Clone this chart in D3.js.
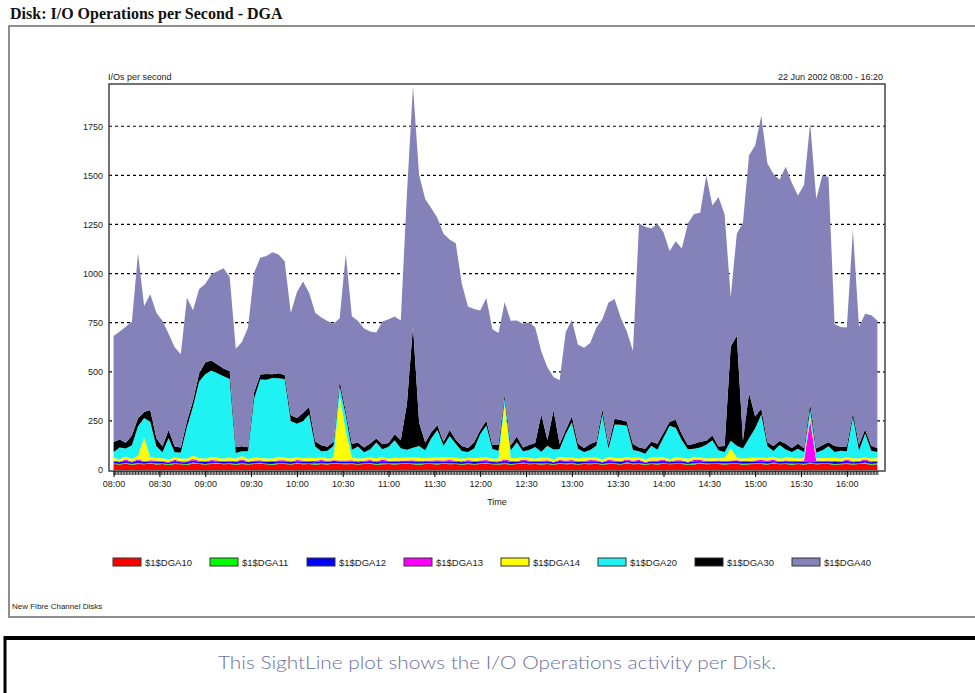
<!DOCTYPE html>
<html>
<head>
<meta charset="utf-8">
<script src="https://cdn.jsdelivr.net/npm/d3@7"></script>
<style>
  body { margin: 0; background: #fff; }
  svg text { font-family: "Liberation Sans", Arial, sans-serif; }
</style>
</head>
<body>
<svg id="chart" width="975" height="693"></svg>
<script>
// disks, in stacking order (bottom first)
var disks = ["$1$DGA10", "$1$DGA11", "$1$DGA12", "$1$DGA13", "$1$DGA14", "$1$DGA20", "$1$DGA30", "$1$DGA40"];
var diskColors = ["#ff0000", "#00ff00", "#0000ff", "#ff00ff", "#ffff00", "#1ff2f2", "#000000", "#8582ba"];

// one sample every 4 minutes, 08:00 - 16:20
var sampleStep = 4;

var dga10 = [30, 28, 32, 27, 31, 29, 33, 28, 30, 26,
  31, 29, 27, 32, 30, 28, 31, 33, 29, 30,
  27, 31, 28, 30, 32, 29, 27, 31, 30, 28,
  32, 29, 30, 27, 31, 28, 33, 30, 29, 31,
  28, 30, 32, 27, 29, 31, 28, 30, 33, 29,
  27, 31, 30, 28, 32, 29, 30, 27, 31, 28,
  30, 32, 29, 28, 31, 27, 30, 33, 29, 31,
  28, 30, 27, 32, 29, 31, 28, 30, 29, 32,
  27, 31, 30, 28, 33, 29, 31, 27, 30, 28,
  32, 29, 30, 31, 27, 28, 33, 29, 30, 31,
  28, 30, 32, 27, 29, 31, 30, 28, 33, 29,
  31, 27, 30, 28, 32, 29, 31, 30, 27, 29,
  31, 28, 30, 32, 27, 29];

var dga11 = [4, 3, 5, 4, 6, 3, 4, 5, 3, 4,
  5, 3, 4, 6, 4, 3, 5, 4, 3, 5,
  4, 6, 3, 4, 5, 3, 4, 5, 4, 3,
  5, 4, 3, 6, 4, 5, 3, 4, 5, 4,
  3, 5, 4, 4, 6, 3, 5, 4, 3, 4,
  5, 3, 4, 5, 4, 6, 3, 4, 5, 3,
  4, 5, 3, 4, 6, 4, 3, 5, 4, 3,
  5, 4, 3, 4, 5, 6, 3, 4, 5, 4,
  3, 5, 4, 3, 6, 4, 5, 3, 4, 5,
  4, 3, 5, 4, 3, 6, 4, 5, 3, 4,
  5, 4, 3, 5, 4, 3, 6, 4, 5, 3,
  4, 5, 3, 4, 6, 4, 3, 5, 4, 3,
  5, 4, 3, 6, 4, 5];

var dga12 = [9, 8, 10, 7, 11, 9, 8, 10, 9, 7,
  10, 8, 9, 11, 8, 10, 9, 7, 10, 8,
  9, 11, 8, 10, 7, 9, 10, 8, 11, 9,
  8, 10, 9, 7, 11, 8, 10, 9, 8, 10,
  9, 7, 10, 8, 11, 9, 8, 10, 9, 12,
  8, 10, 9, 11, 7, 9, 10, 8, 9, 11,
  10, 8, 9, 7, 10, 11, 8, 9, 10, 8,
  9, 11, 8, 10, 9, 7, 10, 8, 11, 9,
  8, 10, 9, 11, 8, 9, 10, 7, 9, 10,
  11, 8, 9, 10, 8, 11, 9, 7, 10, 9,
  8, 10, 11, 9, 8, 10, 9, 11, 8, 9,
  10, 8, 9, 11, 7, 10, 9, 8, 10, 9,
  11, 8, 9, 10, 8, 9];

var dga13 = [5, 4, 6, 5, 7, 4, 5, 6, 4, 5,
  6, 4, 5, 7, 5, 4, 6, 5, 4, 6,
  5, 7, 4, 5, 6, 4, 5, 6, 5, 4,
  6, 5, 4, 7, 5, 6, 4, 5, 6, 5,
  4, 6, 5, 5, 7, 4, 6, 5, 4, 5,
  6, 4, 5, 6, 5, 7, 4, 5, 6, 4,
  5, 6, 4, 5, 7, 5, 4, 6, 5, 4,
  6, 5, 4, 5, 6, 7, 4, 5, 6, 5,
  4, 6, 5, 4, 7, 5, 6, 4, 5, 6,
  5, 4, 6, 5, 4, 7, 5, 6, 4, 5,
  6, 5, 4, 6, 5, 4, 7, 5, 6, 4,
  5, 6, 4, 5, 210, 5, 4, 6, 5, 4,
  6, 5, 4, 7, 5, 6];

var dga14 = [14, 12, 16, 13, 18, 120, 15, 12, 14, 11,
  13, 15, 12, 17, 14, 12, 16, 13, 11, 14,
  12, 16, 13, 15, 11, 14, 12, 17, 13, 15,
  14, 12, 16, 13, 15, 11, 14, 330, 150, 13,
  15, 12, 14, 16, 13, 11, 15, 12, 14, 13,
  16, 12, 14, 13, 15, 12, 17, 13, 11, 14,
  13, 15, 12, 14, 280, 13, 16, 12, 14, 11,
  15, 13, 12, 16, 14, 12, 13, 15, 11, 14,
  12, 16, 13, 14, 11, 15, 13, 12, 16, 14,
  13, 11, 15, 12, 14, 16, 13, 12, 14, 11,
  15, 60, 13, 12, 16, 14, 11, 13, 15, 12,
  14, 16, 12, 13, 15, 11, 14, 12, 16, 13,
  12, 15, 13, 11, 14, 12];

var dga20 = [30, 60, 40, 70, 150, 100, 180, 60, 30, 110,
  25, 30, 160, 250, 390, 430, 440, 430, 420, 400,
  30, 25, 40, 300, 400, 400, 410, 400, 400, 190,
  170, 190, 220, 60, 30, 40, 60, 50, 80, 40,
  60, 30, 40, 80, 40, 60, 90, 50, 40, 50,
  60, 40, 100, 140, 60, 110, 70, 40, 30, 50,
  120, 160, 50, 40, 30, 40, 80, 30, 40, 60,
  30, 60, 50, 40, 120, 180, 50, 30, 40, 60,
  230, 40, 170, 170, 160, 40, 30, 30, 60, 40,
  100, 170, 150, 90, 50, 40, 50, 70, 90, 40,
  30, 40, 60, 50, 100, 150, 220, 60, 30, 70,
  40, 30, 50, 30, 40, 30, 40, 60, 30, 40,
  30, 210, 40, 120, 40, 30];

var dga30 = [50, 40, 30, 50, 40, 30, 60, 40, 30, 40,
  30, 25, 30, 30, 40, 60, 50, 45, 40, 40,
  30, 25, 20, 30, 25, 30, 20, 25, 20, 30,
  30, 40, 40, 25, 30, 20, 20, 25, 20, 30,
  20, 25, 30, 20, 25, 20, 30, 40, 230, 620,
  120, 40, 30, 25, 20, 30, 20, 25, 20, 30,
  20, 25, 20, 30, 20, 25, 30, 20, 25, 20,
  190, 30, 200, 25, 20, 30, 25, 20, 30, 20,
  25, 20, 30, 25, 20, 30, 20, 25, 20, 30,
  25, 20, 40, 30, 20, 25, 30, 20, 25, 20,
  30, 480, 560, 40, 230, 60, 30, 20, 25, 20,
  30, 20, 25, 20, 30, 20, 25, 20, 30, 20,
  25, 20, 30, 20, 25, 20];

var dga40 = [540, 550, 590, 580, 840, 540, 590, 640, 640, 490,
  505, 475, 630, 460, 430, 400, 440, 475, 510, 480,
  500, 530, 610, 610, 595, 600, 620, 605, 580, 520,
  640, 670, 580, 655, 650, 640, 600, 320, 800, 650,
  620, 605, 570, 540, 625, 630, 600, 610, 1070, 1220,
  1260, 1240, 1140, 1055, 1060, 970, 1000, 825, 720, 680,
  610, 625, 590, 570, 470, 635, 590, 630, 625, 590,
  320, 370, 170, 325, 500, 490, 505, 510, 515, 580,
  460, 725, 610, 520, 460, 475, 1140, 1130, 1085, 1120,
  1020, 870, 910, 945, 1130, 1170, 1165, 1350, 1170, 1270,
  1180, 250, 520, 1110, 1210, 1380, 1490, 1420, 1385, 1330,
  1410, 1350, 1265, 1340, 1425, 1270, 1375, 1350, 620, 610,
  605, 930, 600, 590, 665, 650];

var yTicks = [0, 250, 500, 750, 1000, 1250, 1500, 1750];

var series = [dga10, dga11, dga12, dga13, dga14, dga20, dga30, dga40];
var day = new Date(2002, 5, 22, 8, 0);

var rows = dga10.map(function(v, i) {
  var row = { time: d3.timeMinute.offset(day, i * sampleStep) };
  disks.forEach(function(k, j) { row[k] = series[j][i]; });
  return row;
});

var svg = d3.select("#chart");

// page title and outer frame
svg.append("text")
  .attr("x", 10).attr("y", 19)
  .style("font-family", "'Liberation Serif', 'Times New Roman', serif")
  .style("font-weight", "bold")
  .style("font-size", "16px")
  .attr("fill", "#111")
  .text("Disk: I/O Operations per Second - DGA");

svg.append("rect")
  .attr("x", 9).attr("y", 26)
  .attr("width", 980).attr("height", 591)
  .attr("fill", "none").attr("stroke", "#6a6a6a").attr("stroke-width", 1.5);

var plot = { left: 109, right: 885, top: 84, bottom: 471 };

var x = d3.scaleTime()
  .domain([new Date(2002, 5, 22, 7, 57), new Date(2002, 5, 22, 16, 25)])
  .range([plot.left, plot.right]);

var y = d3.scaleLinear()
  .domain([0, 1965])
  .range([470, plot.top]);

// dashed grid lines
svg.append("g").selectAll("line")
  .data(yTicks.filter(d => d > 0))
  .join("line")
  .attr("x1", plot.left).attr("x2", plot.right)
  .attr("y1", d => y(d)).attr("y2", d => y(d))
  .attr("stroke", "#000").attr("stroke-width", 1.2)
  .attr("stroke-dasharray", "3,3");

// stacked areas
var stacked = d3.stack().keys(disks)(rows);

var area = d3.area()
  .x(d => x(d.data.time))
  .y0(d => y(d[0]))
  .y1(d => y(d[1]));

svg.append("g").selectAll("path")
  .data(stacked)
  .join("path")
  .attr("fill", (d, i) => diskColors[i])
  .attr("d", area);

// plot frame
svg.append("rect")
  .attr("x", plot.left).attr("y", plot.top)
  .attr("width", plot.right - plot.left).attr("height", plot.bottom - plot.top)
  .attr("fill", "none").attr("stroke", "#444").attr("stroke-width", 1.5);

// y axis labels
var yAxis = svg.append("g")
  .attr("transform", `translate(${plot.left},0)`)
  .call(d3.axisLeft(y).tickValues(yTicks).tickSize(0).tickPadding(6).tickFormat(d3.format("d")));
yAxis.select(".domain").remove();
yAxis.selectAll("text").attr("fill", "#222").style("font-size", "9px");

// x axis: one tick a minute, labels every half hour
var xMinor = svg.append("g")
  .attr("transform", `translate(0,${plot.bottom})`)
  .call(d3.axisBottom(x)
    .tickValues(d3.timeMinute.range(day, new Date(2002, 5, 22, 16, 21)))
    .tickSize(4).tickFormat(""));
xMinor.select(".domain").remove();
xMinor.selectAll("line").attr("stroke", "#000").attr("stroke-width", 0.8);

var xMajor = svg.append("g")
  .attr("transform", `translate(0,${plot.bottom})`)
  .call(d3.axisBottom(x)
    .tickValues(d3.timeMinute.every(30).range(day, new Date(2002, 5, 22, 16, 1)))
    .tickSize(6).tickPadding(4)
    .tickFormat(d3.timeFormat("%H:%M")));
xMajor.select(".domain").remove();
xMajor.selectAll("text").attr("fill", "#222").style("font-size", "9px");

svg.append("text")
  .attr("x", 497).attr("y", 505)
  .attr("text-anchor", "middle")
  .style("font-size", "9px").attr("fill", "#222")
  .text("Time");

svg.append("text")
  .attr("x", 108).attr("y", 80)
  .style("font-size", "9px").attr("fill", "#222")
  .text("I/Os per second");

svg.append("text")
  .attr("x", 883).attr("y", 80)
  .attr("text-anchor", "end")
  .style("font-size", "9px").attr("fill", "#222")
  .text("22 Jun 2002 08:00 - 16:20");

// legend
var legendX = d3.scaleBand().domain(disks).range([113, 113 + 8 * 97]);

var legend = svg.append("g").selectAll("g")
  .data(disks)
  .join("g")
  .attr("transform", d => `translate(${legendX(d)},558)`);

legend.append("rect")
  .attr("width", 28).attr("height", 8)
  .attr("fill", (d, i) => diskColors[i])
  .attr("stroke", "#333").attr("stroke-width", 1);

legend.append("text")
  .attr("x", 32).attr("y", 8)
  .style("font-size", "9.5px").attr("fill", "#222")
  .text(d => d);

svg.append("text")
  .attr("x", 12).attr("y", 609)
  .style("font-size", "8px").attr("fill", "#222")
  .text("New Fibre Channel Disks");

// caption box below the chart
svg.append("line")
  .attr("x1", 4).attr("x2", 975).attr("y1", 638).attr("y2", 638)
  .attr("stroke", "#000").attr("stroke-width", 4);
svg.append("line")
  .attr("x1", 5).attr("x2", 5).attr("y1", 636).attr("y2", 693)
  .attr("stroke", "#000").attr("stroke-width", 3);

svg.append("text")
  .attr("x", 497).attr("y", 669)
  .attr("text-anchor", "middle")
  .attr("textLength", 558).attr("lengthAdjust", "spacingAndGlyphs")
  .style("font-family", "Lato, 'Open Sans', sans-serif")
  .style("font-weight", "300")
  .style("font-size", "18px")
  .attr("fill", "#6c6fa0")
  .text("This SightLine plot shows the I/O Operations activity per Disk.");
</script>
</body>
</html>
